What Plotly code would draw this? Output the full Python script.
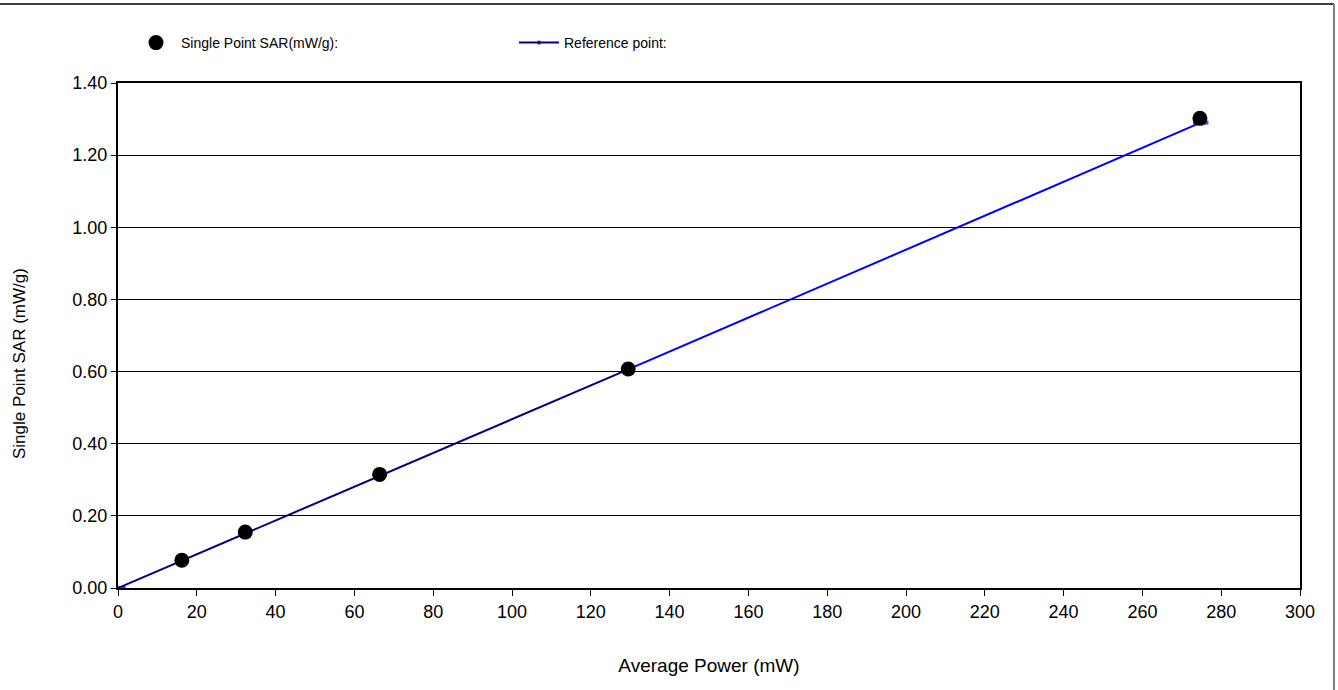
import plotly.graph_objects as go

# Data
power_mw = [16.2, 32.3, 66.4, 129.5, 274.6]
sar_points = [0.077, 0.155, 0.315, 0.607, 1.302]
ref_x = [0, 16.2, 32.3, 66.4, 129.5]
ref_y = [0, 0.076, 0.152, 0.311, 0.606]
ext_x = [129.5, 274.8]
ext_y = [0.606, 1.290]

x_ticks = list(range(0, 301, 20))
y_ticks = [0, 0.2, 0.4, 0.6, 0.8, 1.0, 1.2, 1.4]

W, H = 1338, 690
L, R, T, B = 118, 38, 83, 102
pw, ph = W - L - R, H - T - B

def px(p):
    return (p - L) / pw

def py(p):
    return (H - B - p) / ph

fig = go.Figure()
fig.add_trace(go.Scatter(x=ext_x, y=ext_y, mode="lines+markers",
                         line=dict(color="#0000ff", width=2),
                         marker=dict(symbol="line-ew", size=[0, 11],
                                     line=dict(color="#0000ff", width=4)),
                         showlegend=False, hoverinfo="skip"))
fig.add_trace(go.Scatter(x=ref_x, y=ref_y, mode="lines+markers",
                         name="Reference point:",
                         line=dict(color="#000080", width=2),
                         marker=dict(symbol="line-ew", size=[11, 0, 0, 0, 0],
                                     line=dict(color="#000080", width=4))))
fig.add_trace(go.Scatter(x=power_mw, y=sar_points, mode="markers",
                         name="Single Point SAR(mW/g):",
                         marker=dict(color="black", size=15)))

font = "Liberation Sans, Arial, sans-serif"
fig.update_layout(
    width=W, height=H,
    margin=dict(l=L, r=R, t=T, b=B),
    paper_bgcolor="white", plot_bgcolor="white",
    font=dict(family=font, color="black"),
    legend=dict(orientation="h", x=px(131), y=py(43), xanchor="left", yanchor="middle",
                traceorder="reversed", entrywidth=328, itemwidth=40, font=dict(size=14),
                bgcolor="rgba(0,0,0,0)"),
    xaxis=dict(range=[0, 300], tickvals=x_ticks, ticks="outside", ticklen=6,
               tickcolor="black", showline=True, linecolor="black", linewidth=2,
               mirror=True, showgrid=False, zeroline=False,
               tickfont=dict(size=18),
               title=dict(text="Average Power (mW)", font=dict(size=19), standoff=38)),
    yaxis=dict(range=[0, 1.4], tickvals=y_ticks, tickformat=".2f", ticks="outside",
               ticklen=5, tickcolor="black", showline=True, linecolor="black",
               linewidth=2, mirror=True, showgrid=True, gridcolor="black", gridwidth=1,
               zeroline=False, tickfont=dict(size=18)),
    annotations=[
        dict(text="Single Point SAR (mW/g)", textangle=-90, showarrow=False,
             xref="paper", yref="paper", x=px(19), y=py(364),
             xanchor="center", yanchor="middle", font=dict(size=17)),
    ],
    shapes=[
        dict(type="line", xref="paper", yref="paper", x0=px(0), x1=px(1334),
             y0=py(4), y1=py(4), line=dict(color="#404040", width=2)),
        dict(type="line", xref="paper", yref="paper", x0=px(1334), x1=px(1334),
             y0=py(4), y1=py(690), line=dict(color="#808080", width=2)),
    ],
)

fig.write_html("out.html", config={"displayModeBar": False},
               post_script="document.body.style.margin='0';")
